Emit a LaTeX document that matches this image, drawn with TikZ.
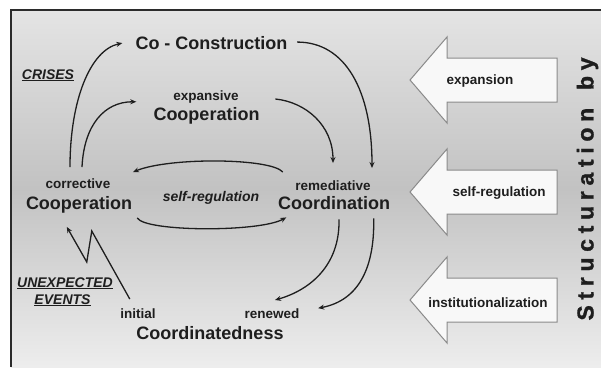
\documentclass[tikz,border=0pt]{standalone}
\usepackage{fontspec}
\setmainfont{Liberation Sans}
\newfontfamily\captionfont{Liberation Sans}[BoldFeatures={FakeBold=1.2}]
\usetikzlibrary{arrows.meta,calc}

\definecolor{ink}{HTML}{1E1E1E}
\definecolor{frameline}{HTML}{2B2B2B}
\definecolor{bgtop}{HTML}{E4E4E4}
\definecolor{bgmid}{HTML}{C2C2C2}
\definecolor{bgbot}{HTML}{EDEDED}
\definecolor{arrowfill}{HTML}{F8F8F8}
\definecolor{arrowedge}{HTML}{8A8A8A}

% tracking for the vertical caption
\newcommand\trk{\kern5.7pt\relax}

\tikzset{
  bigtext/.style={font=\fontsize{18}{20}\selectfont\bfseries, text=ink, inner sep=0pt, anchor=base},
  smalltext/.style={font=\fontsize{13.5}{15}\selectfont\bfseries, text=ink, inner sep=0pt, anchor=base},
  triggertext/.style={font=\fontsize{14}{16}\selectfont\bfseries\itshape, text=ink, inner sep=0pt, anchor=base},
  flow/.style={draw=ink, line width=1.3pt, -{Stealth[length=6pt,width=5pt]}},
  pics/bigarrow/.style={code={
    \path[fill=arrowfill, draw=arrowedge, line width=1pt]
      (-77,0) -- (-40,-43) -- (-40,-22) -- (70,-22) -- (70,22) -- (-40,22) -- (-40,43) -- cycle;
  }},
}

\begin{document}
\begin{tikzpicture}[x=1pt,y=-1pt]
\useasboundingbox (0,0) rectangle (601,367);

% panel background and frame
\shade[top color=bgtop, bottom color=bgbot, middle color=bgmid] (11,10) rectangle (601,367);
\draw[frameline, line width=2.5pt] (11,367) -- (11,10) -- (601,10);

% cycle of coordination forms
\node[bigtext] (coco) at (211.5,49) {Co - Construction};
\node[smalltext] (expl) at (206,100.5) {expansive};
\node[bigtext] (expc) at (206.5,120) {Cooperation};
\node[smalltext] (corl) at (78,188) {corrective};
\node[bigtext] (corc) at (79,209) {Cooperation};
\node[smalltext] (reml) at (333,190) {remediative};
\node[bigtext] (remc) at (334,209) {Coordination};
\node[triggertext] (selfreg) at (211,201) {self-regulation};
\node[smalltext] (ini) at (138,318) {initial};
\node[smalltext] (ren) at (272,318) {renewed};
\node[bigtext] (cdn) at (210,339) {Coordinatedness};

% triggers
\node[triggertext] (crises) at (48,79) {\underline{CRISES}};
\node[triggertext] (unexp) at (65,287) {\underline{UNEXPECTED}};
\node[triggertext] (events) at (62.5,304) {\underline{EVENTS}};

% connectors
\draw[flow] ($(corl.north)+(-8,-11)$) .. controls +(0,-67) and +(-32,7) .. ($(coco.west)+(-13,0.5)$);
\draw[flow] ($(corl.north)+(4,-11)$) .. controls +(2,-42) and +(-32,0) .. ($(expc.north west)+(-17,-5)$);
\draw[flow] ($(coco.east)+(9.5,-0.5)$) .. controls +(48,0) and +(0,-78) .. ($(reml.north)+(39,-12)$);
\draw[flow] ($(expl.east)+(36.5,2)$) .. controls +(30,3) and +(0,-38) .. ($(reml.north)+(0,-17)$);
\draw[flow] ($(reml.north west)+(-12.5,-8)$) .. controls +(-12,-14) and +(37,-15) .. ($(corl.north east)+(22.5,-6)$);
\draw[flow] ($(corc.south east)+(5,5)$) .. controls +(8,14) and +(-27,15) .. ($(remc.south west)+(8.5,8)$);
\draw[flow] ($(remc.south)+(5,10)$) .. controls +(1,46) and +(35,-10) .. ($(ren.north)+(3,-8)$);
\draw[flow] ($(remc.south east)+(-16.5,9)$) .. controls +(1,47) and +(42,-8) .. ($(ren.east)+(18.6,-5)$);
\draw[flow, line join=miter] ($(ini.north west)+(9.6,-9)$) -- ++(-38,-68) -- ++(-5,31) -- ($(corc.south west)+(41,14)$);

% structuration forces
\pic at (487,80) {bigarrow};
\pic at (487,192) {bigarrow};
\pic at (487,300) {bigarrow};
\node[smalltext] (lexp) at (480,84.5) {expansion};
\node[smalltext] (lself) at (499,196) {self-regulation};
\node[smalltext] (linst) at (488,307) {institutionalization};

\node[font=\captionfont\fontsize{23}{26}\selectfont\bfseries, text=ink, inner sep=0pt, rotate=90] (struct) at (587.5,189)
  {S\trk t\trk r\trk u\trk c\trk t\trk u\trk r\trk a\trk t\trk i\trk o\trk n\trk\ \trk b\trk y};
\end{tikzpicture}
\end{document}
